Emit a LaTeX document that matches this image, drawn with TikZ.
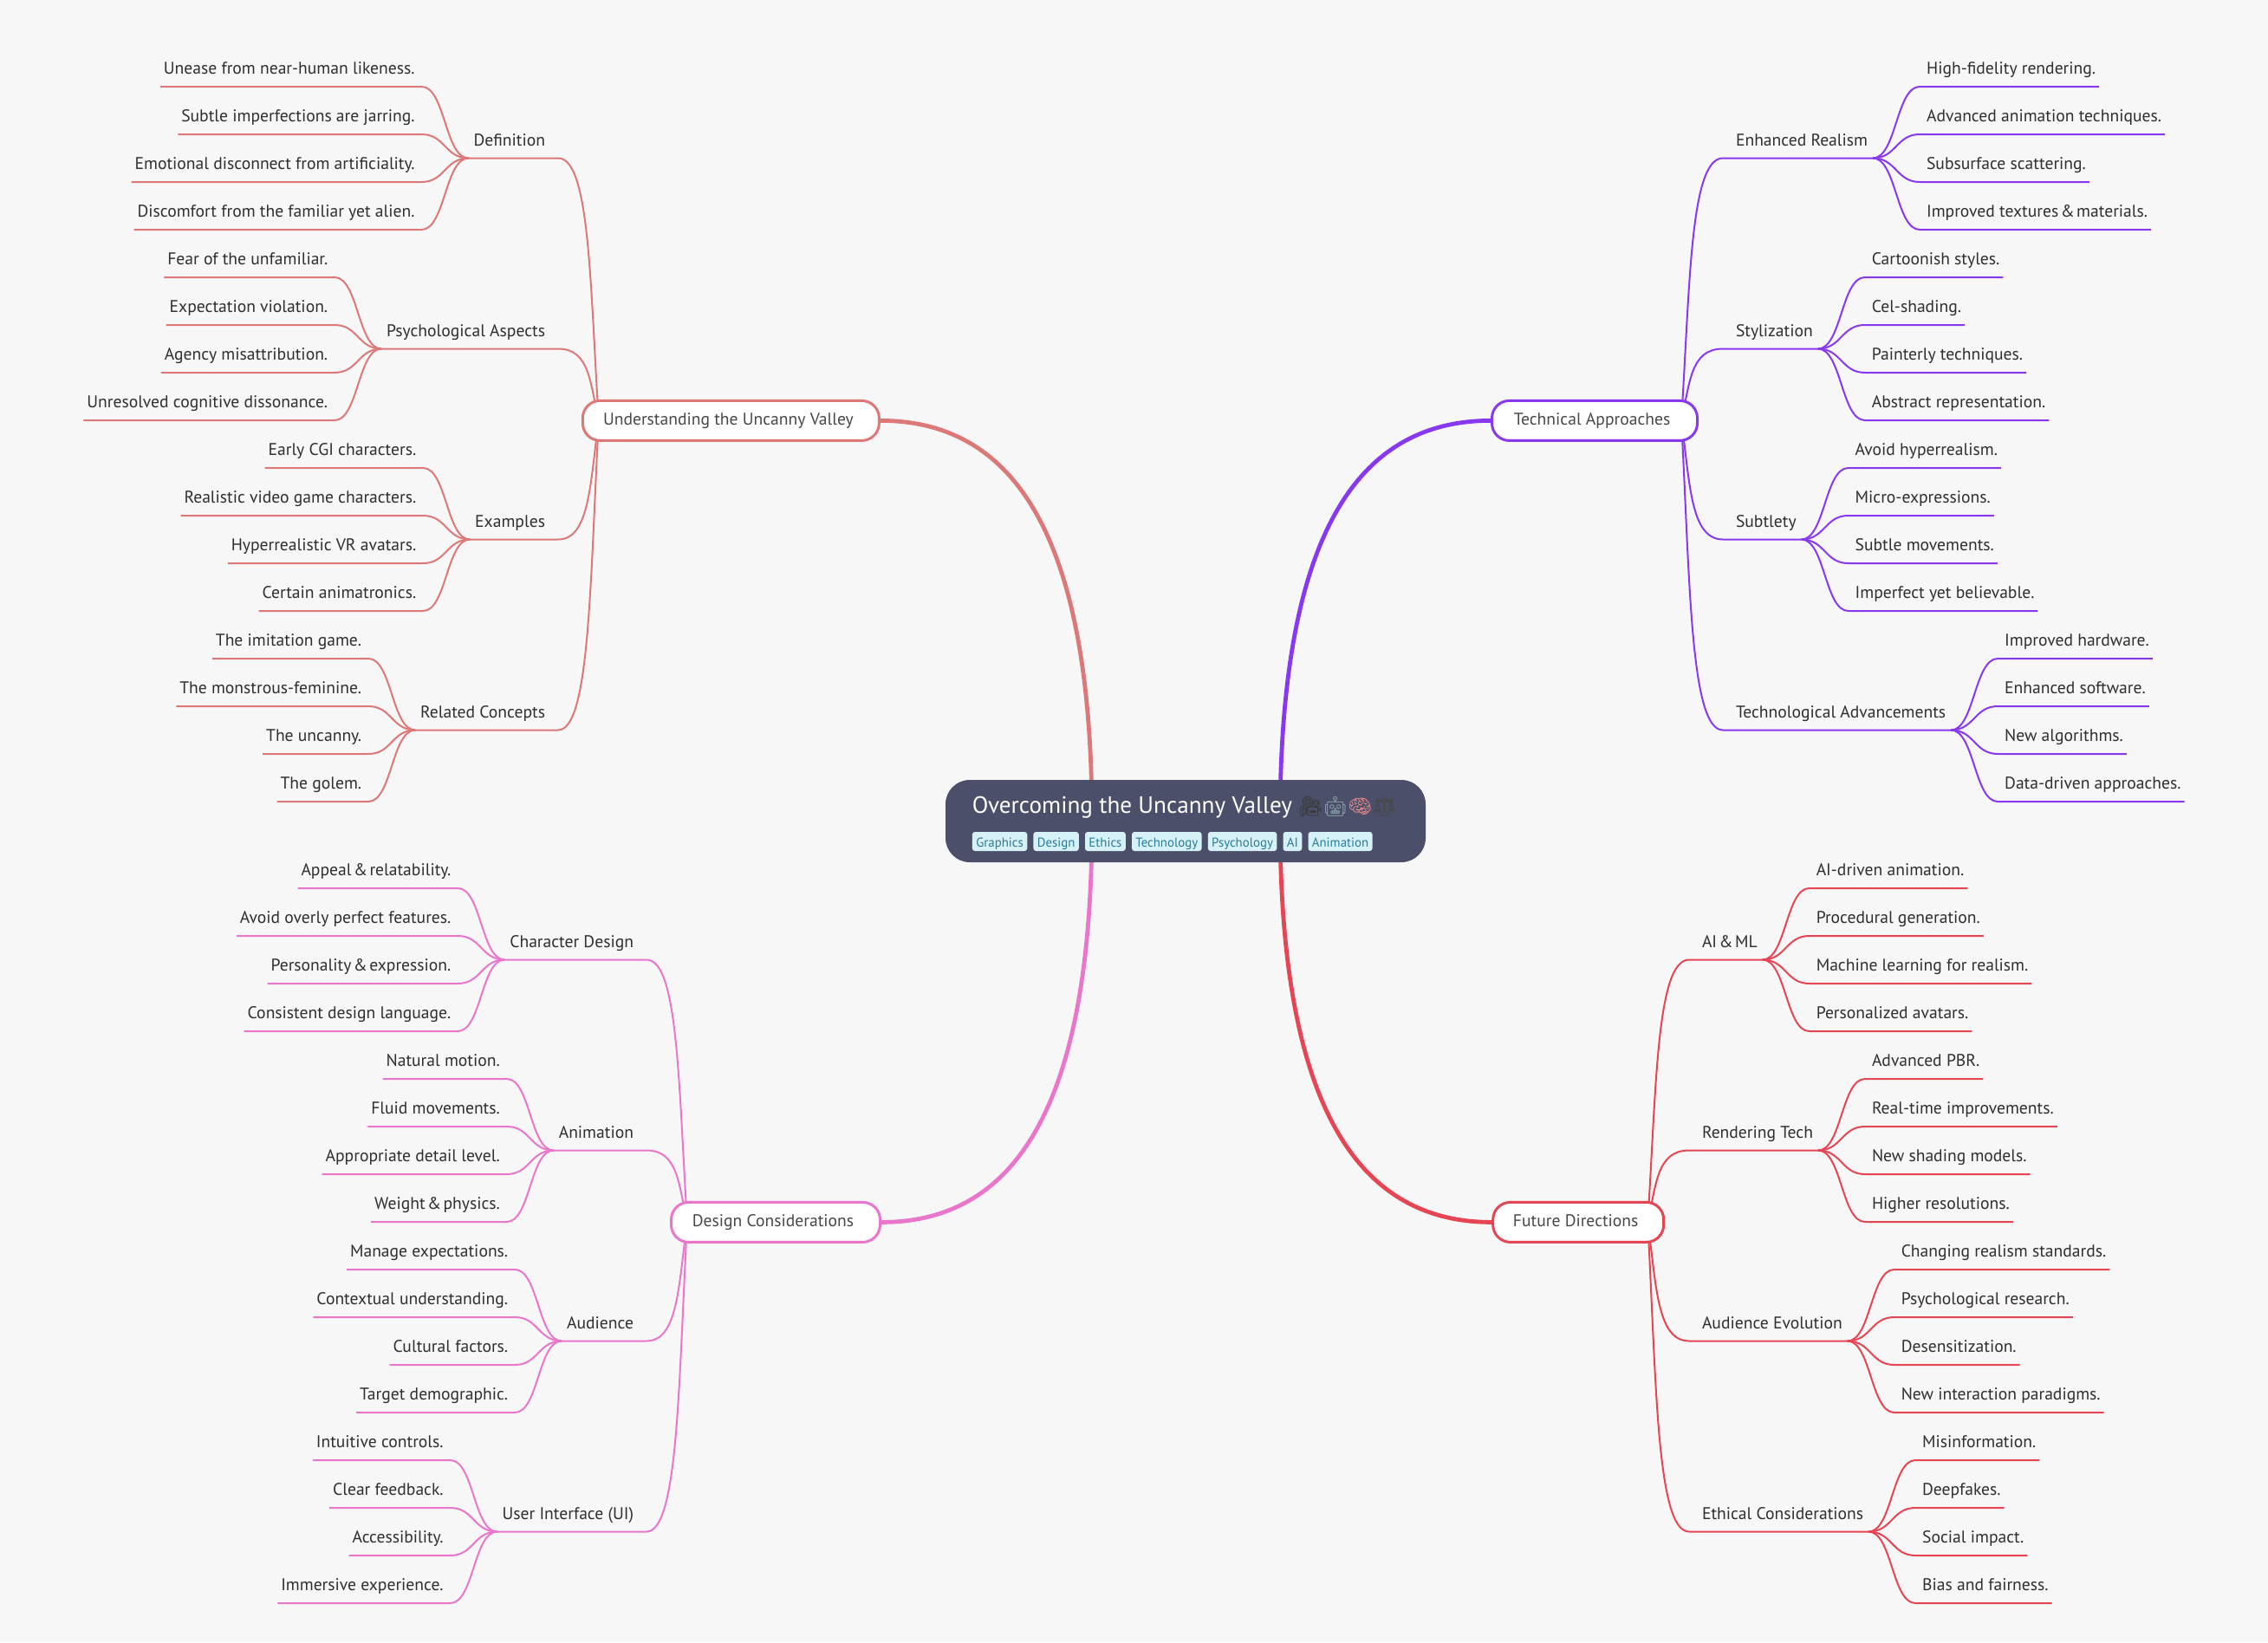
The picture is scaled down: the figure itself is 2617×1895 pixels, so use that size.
\documentclass[tikz,border=0pt]{standalone}
\usepackage{fontspec}
\setmainfont{PT Sans}
\newfontfamily\emojifont{Noto Emoji}
\definecolor{mapflamingo}{HTML}{DD7878}
\definecolor{mappink}{HTML}{EA76CB}
\definecolor{mapmauve}{HTML}{8839EF}
\definecolor{mapmaroon}{HTML}{E64553}
\definecolor{mapnavy}{HTML}{4C4F69}
\definecolor{tagfill}{HTML}{D6F1F8}
\definecolor{tagtext}{HTML}{2B7A96}
\usetikzlibrary{calc}
\usetikzlibrary{positioning}
\usetikzlibrary{chains,backgrounds}
\tikzset{
  subnode/.style={fill=white, line width=1.5pt, rounded corners=10pt, inner sep=0pt,
    minimum height=23pt, text height=8pt, text depth=3pt, text=black!72,
    font=\fontsize{9.8}{12}\selectfont, execute at end node=\hspace*{3pt}},
  twig/.style={inner xsep=3pt, inner ysep=0pt, outer sep=0pt, text height=10pt, text depth=7.2pt,
    text=black!82, font=\fontsize{9.8}{12}\selectfont},
  leaf/.style={inner xsep=2pt, inner ysep=0pt, outer sep=0pt, text height=10pt, text depth=7.2pt,
    text=black!82, font=\fontsize{9.8}{12}\selectfont},
  tagbox/.style={fill=tagfill, rounded corners=1.5pt, inner xsep=2.2pt, inner ysep=.5pt,
    text height=8pt, text depth=2pt, text=tagtext, font=\fontsize{7.42}{9}\selectfont},
  rootline/.style={line width=2.4pt},
  thinline/.style={line width=1pt, line join=round}
}
\newcommand{\amp}{\kern-.14em\&\kern-.14em}
\newcommand{\branchR}[7]{
  \node [twig, anchor=south west, execute at begin node=\hspace*{4.5pt}] (#1) at (#4,#5) {#6};
  \begin{pgfonlayer}{background}
    \draw [thinline, #3] (#2hook) .. controls ($(#2hook)!.51!(#2hook|-#1.south west)+(10,0)$) and ($(#2hook|-#1.south west)+(10,0)$) .. (#1.south west) -- (#1.south east);
  \end{pgfonlayer}
  \foreach \leaftext [count=\i] in {#7} {
    \node [leaf, anchor=south west, execute at begin node=\hspace*{2pt}] (#1-\i) at ($(#1.south east)+(54,{55*\i-137.5})$) {\leaftext};
    \draw [thinline, #3] (#1.south east) .. controls +(27,0) and +(-27,0) .. (#1-\i.south west) -- (#1-\i.south east);
  }
}
\newcommand{\branchL}[7]{
  \node [twig, anchor=south east, execute at end node=\hspace*{4.5pt}] (#1) at (#4,#5) {#6};
  \begin{pgfonlayer}{background}
    \draw [thinline, #3] (#2hook) .. controls ($(#2hook)!.51!(#2hook|-#1.south east)+(-10,0)$) and ($(#2hook|-#1.south east)+(-10,0)$) .. (#1.south east) -- (#1.south west);
  \end{pgfonlayer}
  \foreach \leaftext [count=\i] in {#7} {
    \node [leaf, anchor=south east, execute at end node=\hspace*{2pt}] (#1-\i) at ($(#1.south west)+(-54,{55*\i-137.5})$) {\leaftext};
    \draw [thinline, #3] (#1.south west) .. controls +(-27,0) and +(27,0) .. (#1-\i.south east) -- (#1-\i.south west);
  }
}

\begin{document}
\begin{tikzpicture}[x=0.5pt, y=-0.5pt, start chain=tags going right, node distance=3.2pt]
  \useasboundingbox (0,0) rectangle (2617,1895);
  \begin{pgfonlayer}{background}
    \fill [black!3] (0,0) rectangle (2617,1895);
  \end{pgfonlayer}

  \node [fill=mapnavy, rounded corners=14pt, minimum width=277pt, minimum height=47.5pt, inner sep=0pt] (root) at (1368,947.5) {};
  \node [anchor=base west, inner sep=0pt, text=white, font=\fontsize{13.6}{16}\selectfont] (title) at (1121.5,938)
    {Overcoming the Uncanny Valley {\emojifont\fontsize{11.2}{14}\selectfont{\color{black!78}🎥}{\color[HTML]{8FA6B2}🤖}{\color[HTML]{EE8E8E}🧠}{\color{black!72}⚖}}};

  \coordinate (rootleft) at (1260,947.5);
  \coordinate (rootright) at (1477,947.5);

  \node [tagbox, on chain=tags, anchor=west] (graphics) at (1121.5,971) {Graphics};
  \begin{scope}[every node/.style={tagbox, on chain=tags}]
    \node (design) {Design};
    \node (ethics) {Ethics};
    \node (technology) {Technology};
    \node (psychology) {Psychology};
    \node (ai) {AI};
    \node (animationtag) {Animation};
  \end{scope}

  \node [subnode, draw=mapflamingo, minimum width=171pt] (uncanny) at (843.4,485.4) {Understanding the Uncanny Valley};
  \node [subnode, draw=mappink, minimum width=120.5pt] (considerations) at (895,1410.4) {Design Considerations};
  \node [subnode, draw=mapmauve, minimum width=118.5pt] (approaches) at (1840,485.4) {Technical Approaches};
  \node [subnode, draw=mapmaroon, minimum width=98.5pt] (future) at (1821.2,1410.4) {Future Directions};

  \coordinate (uncannyhook) at ($(uncanny.west)+(20,0)$);
  \coordinate (considerationshook) at ($(considerations.west)+(20,0)$);
  \coordinate (approacheshook) at ($(approaches.east)+(-20,0)$);
  \coordinate (futurehook) at ($(future.east)+(-20,0)$);

  \begin{pgfonlayer}{background}
    \draw [rootline, mapflamingo] (uncanny.east) .. controls +(164,0) and +(0,-312) .. (rootleft);
    \draw [rootline, mappink] (considerations.east) .. controls +(164,0) and +(0,312) .. (rootleft);
    \draw [rootline, mapmauve] (approaches.west) .. controls +(-164,0) and +(0,-312) .. (rootright);
    \draw [rootline, mapmaroon] (future.west) .. controls +(-164,0) and +(0,312) .. (rootright);
  \end{pgfonlayer}

  % left, top
  \branchL{definition}{uncanny}{mapflamingo}{644}{182.5}{Definition}{Unease from near-human likeness., Subtle imperfections are jarring., Emotional disconnect from artificiality., Discomfort from the familiar yet alien.}
  \branchL{aspects}{uncanny}{mapflamingo}{644}{402.5}{Psychological Aspects}{Fear of the unfamiliar., Expectation violation., Agency misattribution., Unresolved cognitive dissonance.}
  \branchL{examples}{uncanny}{mapflamingo}{644}{622.5}{Examples}{Early CGI characters., Realistic video game characters., Hyperrealistic VR avatars., Certain animatronics.}
  \branchL{related}{uncanny}{mapflamingo}{644}{842.5}{Related Concepts}{The imitation game., The monstrous-feminine., The uncanny., The golem.}

  % left, bottom
  \branchL{character}{considerations}{mappink}{746}{1107.5}{Character Design}{Appeal \amp{} relatability., Avoid overly perfect features., Personality \amp{} expression., Consistent design language.}
  \branchL{animation}{considerations}{mappink}{746}{1327.5}{Animation}{Natural motion., Fluid movements., Appropriate detail level., Weight \amp{} physics.}
  \branchL{audience}{considerations}{mappink}{746}{1547.5}{Audience}{Manage expectations., Contextual understanding., Cultural factors., Target demographic.}
  \branchL{interface}{considerations}{mappink}{746}{1767.5}{User Interface (UI)}{Intuitive controls., Clear feedback., Accessibility., Immersive experience.}

  % right, top
  \branchR{realism}{approaches}{mapmauve}{1988}{182.5}{Enhanced Realism}{High-fidelity rendering., Advanced animation techniques., Subsurface scattering., Improved textures \amp{} materials.}
  \branchR{stylization}{approaches}{mapmauve}{1988}{402.5}{Stylization}{Cartoonish styles., Cel-shading., Painterly techniques., Abstract representation.}
  \branchR{subtlety}{approaches}{mapmauve}{1988}{622.5}{Subtlety}{Avoid hyperrealism., Micro-expressions., Subtle movements., Imperfect yet believable.}
  \branchR{advancements}{approaches}{mapmauve}{1988}{842.5}{Technological Advancements}{Improved hardware., Enhanced software., New algorithms., Data-driven approaches.}

  % right, bottom
  \branchR{aiml}{future}{mapmaroon}{1949}{1107.5}{AI \amp{} ML}{AI-driven animation., Procedural generation., Machine learning for realism., Personalized avatars.}
  \branchR{rendering}{future}{mapmaroon}{1949}{1327.5}{Rendering Tech}{Advanced PBR., Real-time improvements., New shading models., Higher resolutions.}
  \branchR{evolution}{future}{mapmaroon}{1949}{1547.5}{Audience Evolution}{Changing realism standards., Psychological research., Desensitization., New interaction paradigms.}
  \branchR{ethical}{future}{mapmaroon}{1949}{1767.5}{Ethical Considerations}{Misinformation., Deepfakes., Social impact., Bias and fairness.}
\end{tikzpicture}
\end{document}
